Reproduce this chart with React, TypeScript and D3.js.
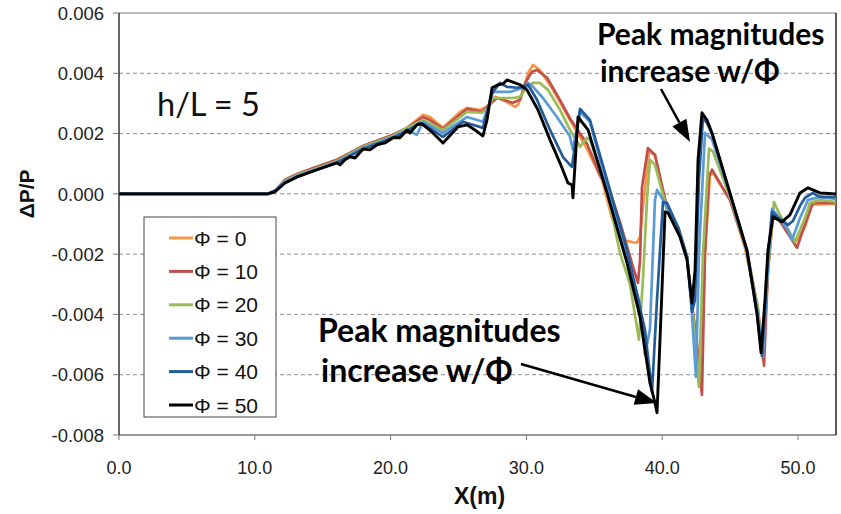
import { useEffect, useRef } from "react";
import * as d3 from "d3";

// x in metres, y = ΔP/P
const phi0: [number, number][] = [
  [0, 0], [10.97, 0], [11.49, 0.0001], [12.22, 0.00046], [13.11, 0.00066], [14.58, 0.0009], [16.05, 0.00113],
  [17.01, 0.00136], [17.97, 0.00159], [19.0, 0.00176], [20.18, 0.00196], [21.21, 0.00219], [22.39, 0.00262],
  [22.9, 0.00255], [23.86, 0.00219], [25.11, 0.00272], [25.63, 0.00285], [26.58, 0.00279], [27.1, 0.00289],
  [27.69, 0.00322], [28.28, 0.00312], [29.16, 0.00289], [29.38, 0.00295], [29.75, 0.00338], [30.12, 0.00401],
  [30.49, 0.00428], [31.0, 0.00411], [31.96, 0.00345], [33.21, 0.00245], [34.46, 0.0015], [35.57, 0.00046],
  [36.3, -0.0008], [37.11, -0.00153], [38.14, -0.00163], [38.37, -0.00143], [38.59, -0.0004], [39.03, 0.0014],
  [39.47, 0.0013], [40.43, -0.0006], [41.16, -0.0011], [41.83, -0.00209], [42.2, -0.0037], [42.56, -0.0049],
  [42.86, -0.0063], [43.15, -0.002], [43.52, 0.0006], [43.74, 0.0007], [44.99, -0.0002], [46.1, -0.0018],
  [46.98, -0.0037], [47.42, -0.0055], [47.79, -0.0026], [48.16, -0.0007], [48.67, -0.0009], [49.78, -0.00163],
  [50.52, -0.0011], [51.03, -0.00036], [52.8, -0.00033],
];

const phi10: [number, number][] = [
  [0, 0], [10.97, 0], [11.49, 0.0001], [12.22, 0.00046], [13.11, 0.00066], [14.58, 0.0009], [16.05, 0.00113],
  [17.01, 0.00136], [17.97, 0.00159], [19.0, 0.00176], [20.18, 0.00196], [21.21, 0.00219], [22.39, 0.00255],
  [22.9, 0.00245], [23.86, 0.00216], [25.63, 0.00282], [26.73, 0.00272], [27.1, 0.00289], [27.84, 0.00318],
  [29.01, 0.00302], [29.53, 0.00312], [29.9, 0.00368], [30.41, 0.00405], [30.78, 0.00411], [31.52, 0.00385],
  [32.47, 0.00312], [33.21, 0.0025], [34.46, 0.00166], [35.42, 0.00063], [36.3, -0.00013], [36.89, -0.00093],
  [37.85, -0.00242], [38.22, -0.00295], [38.37, -0.0022], [38.51, 0.0002], [38.95, 0.00152], [39.47, 0.00129],
  [40.43, -0.00063], [41.16, -0.0011], [41.83, -0.00209], [42.2, -0.0037], [42.56, -0.005], [42.93, -0.00667],
  [43.15, -0.002], [43.45, 0.0006], [43.67, 0.0008], [44.99, -0.0002], [46.24, -0.0019], [47.05, -0.0038],
  [47.5, -0.0057], [47.79, -0.0025], [48.16, -0.0007], [48.67, -0.0009], [49.93, -0.00179], [50.52, -0.001],
  [51.1, -0.0003], [52.8, -0.0003],
];

const phi20: [number, number][] = [
  [0, 0], [10.97, 0], [11.49, 0.0001], [12.22, 0.00043], [13.11, 0.00063], [14.58, 0.00086], [16.05, 0.00109],
  [17.01, 0.00133], [17.97, 0.00156], [19.0, 0.00173], [20.18, 0.00193], [21.21, 0.00219], [22.39, 0.00245],
  [23.86, 0.00212], [25.63, 0.00272], [26.73, 0.00269], [27.17, 0.00285], [27.54, 0.00318], [29.01, 0.00318],
  [29.53, 0.00322], [30.04, 0.00355], [30.49, 0.00368], [31.0, 0.00368], [31.59, 0.00345], [32.47, 0.00279],
  [33.21, 0.00212], [33.8, 0.00169], [33.95, 0.00156], [34.46, 0.00186], [34.68, 0.00179], [35.94, 0.00013],
  [36.89, -0.00196], [37.63, -0.003], [38.29, -0.00484], [38.59, -0.0028], [38.88, -0.0002], [39.1, 0.00113],
  [39.47, 0.00096], [40.35, -0.00053], [41.16, -0.0011], [41.83, -0.00209], [42.2, -0.0037], [42.71, -0.0064],
  [43.0, -0.002], [43.45, 0.0015], [43.74, 0.0014], [44.99, -0.0001], [46.24, -0.0019], [47.05, -0.0038],
  [47.35, -0.0052], [47.72, -0.0028], [48.23, -0.00027], [48.67, -0.0007], [49.78, -0.00159], [50.52, -0.0008],
  [50.88, -0.0003], [51.62, -0.0002], [52.8, -0.00027],
];

const phi30: [number, number][] = [
  [0, 0], [10.97, 0], [11.49, 0.0001], [12.22, 0.0004], [13.11, 0.0006], [14.58, 0.00083], [16.05, 0.00106],
  [17.01, 0.00129], [17.97, 0.00152], [19.0, 0.00169], [20.18, 0.00189], [21.21, 0.00212], [21.94, 0.00196],
  [22.39, 0.00239], [23.86, 0.00202], [25.63, 0.00255], [26.8, 0.00239], [27.32, 0.00302], [27.54, 0.00338],
  [28.79, 0.00338], [29.75, 0.00352], [30.12, 0.00368], [30.49, 0.00355], [31.22, 0.00318], [32.25, 0.00255],
  [33.21, 0.0019], [33.43, 0.00146], [33.95, 0.00272], [34.68, 0.00239], [35.94, 0.0003], [37.41, -0.00202],
  [38.37, -0.00368], [38.73, -0.00534], [39.1, -0.0045], [39.47, -0.0002], [39.62, 0.00013], [40.06, -0.0002],
  [41.16, -0.0011], [41.83, -0.00209], [42.12, -0.0035], [42.49, -0.00607], [42.71, -0.002], [43.15, 0.00202],
  [43.67, 0.0018], [44.99, 0.0], [46.24, -0.0019], [47.05, -0.004], [47.42, -0.0054], [47.72, -0.003],
  [48.09, -0.0005], [48.45, -0.0007], [49.26, -0.0012], [49.56, -0.00153], [50.15, -0.0008], [50.74, -0.0002],
  [51.62, -0.0001], [52.8, -0.00017],
];

const phi40: [number, number][] = [
  [0, 0], [10.97, 0], [11.49, 0.0001], [12.22, 0.00036], [13.11, 0.00056], [14.58, 0.0008], [16.05, 0.00103],
  [17.01, 0.00126], [17.97, 0.00149], [19.0, 0.00166], [20.18, 0.00186], [21.21, 0.00209], [22.16, 0.00235],
  [22.39, 0.00232], [23.86, 0.00189], [25.33, 0.00239], [26.8, 0.00219], [27.47, 0.00335], [28.06, 0.00368],
  [28.57, 0.00355], [29.31, 0.00352], [29.75, 0.00355], [30.12, 0.00362], [30.78, 0.00312], [31.74, 0.00212],
  [32.7, 0.00122], [33.21, 0.00096], [33.36, 0.0009], [33.95, 0.00282], [34.68, 0.00245], [35.94, 0.00046],
  [37.41, -0.00186], [38.73, -0.00451], [39.25, -0.00657], [39.62, -0.0035], [40.06, -0.00027], [40.35, -0.0003],
  [41.16, -0.0011], [41.83, -0.00209], [42.2, -0.00391], [42.42, -0.0035], [42.71, 0.0005], [43.0, 0.00252],
  [43.3, 0.00235], [43.67, 0.00199], [44.99, 0.0], [46.24, -0.00189], [46.98, -0.004], [47.35, -0.00537],
  [47.57, -0.0038], [47.79, -0.0021], [48.09, -0.0006], [48.45, -0.00075], [49.26, -0.00103], [49.63, -0.0009],
  [50.15, -0.0004], [50.52, -0.00013], [51.1, 0.00003], [51.62, -0.0001], [52.8, -0.0001],
];

const phi50: [number, number][] = [
  [0, 0], [10.97, 0], [11.49, 0.00007], [12.22, 0.00036], [13.11, 0.00056], [14.58, 0.0008], [16.05, 0.00103],
  [16.27, 0.00096], [16.64, 0.00113], [17.01, 0.00123], [17.38, 0.00119], [17.97, 0.00149], [18.48, 0.00146],
  [19.0, 0.00163], [19.59, 0.00169], [20.18, 0.00186], [20.69, 0.00186], [21.21, 0.00212], [21.43, 0.00202],
  [21.94, 0.00229], [22.31, 0.00232], [23.12, 0.00202], [23.86, 0.00169], [24.96, 0.00222], [25.63, 0.00229],
  [26.21, 0.00212], [26.8, 0.00192], [27.1, 0.00245], [27.47, 0.00352], [27.91, 0.00362], [28.28, 0.00365],
  [28.57, 0.00378], [29.01, 0.00371], [29.53, 0.00362], [30.04, 0.00345], [30.85, 0.00279], [31.74, 0.00179],
  [32.47, 0.00103], [33.06, 0.00036], [33.36, 0.0003], [33.43, -0.00013], [33.8, 0.00255], [34.54, 0.00212],
  [35.94, 0.00003], [37.41, -0.00229], [38.37, -0.00408], [39.1, -0.00627], [39.47, -0.00693], [39.62, -0.00726],
  [39.84, -0.00484], [40.21, -0.0006], [40.43, -0.00063], [41.31, -0.00143], [41.83, -0.00219], [42.2, -0.00362],
  [42.42, -0.00252], [42.64, 0.00113], [42.93, 0.00269], [43.3, 0.00245], [43.67, 0.00202], [44.99, 0.00003],
  [46.24, -0.00186], [46.98, -0.00395], [47.28, -0.00527], [47.57, -0.00352], [47.79, -0.00186], [48.16, -0.00076],
  [48.82, -0.00093], [49.41, -0.0007], [50.15, 0.00003], [50.74, 0.0002], [51.62, 0.00003], [52.8, 0],
];

const seriesLabels = ["Φ = 0", "Φ = 10", "Φ = 20", "Φ = 30", "Φ = 40", "Φ = 50"];
const seriesColors = ["#F79646", "#C0504D", "#9BBB59", "#5B9BD5", "#245B99", "#000000"];
const seriesData = [phi0, phi10, phi20, phi30, phi40, phi50];

const xTicks = [0, 10, 20, 30, 40, 50];
const yTicks = [-0.008, -0.006, -0.004, -0.002, 0, 0.002, 0.004, 0.006];

const WIDTH = 841;
const HEIGHT = 514;
const margin = { top: 13, right: 5, bottom: 79, left: 119 };

const tickFont = "'Liberation Sans', Arial, sans-serif";
const noteFont = "Lato, 'Open Sans', sans-serif";

export default function App() {
  const svgRef = useRef<SVGSVGElement | null>(null);

  useEffect(() => {
    if (!svgRef.current) return;
    const svg = d3.select(svgRef.current);
    svg.selectAll("*").remove();

    const left = margin.left;
    const right = WIDTH - margin.right;
    const top = margin.top;
    const bottom = HEIGHT - margin.bottom;

    const x = d3.scaleLinear().domain([0, 52.8]).range([left, right]);
    const y = d3.scaleLinear().domain([-0.008, 0.006]).range([bottom, top]);

    svg.append("rect").attr("width", WIDTH).attr("height", HEIGHT).attr("fill", "#fff");

    // gridlines
    svg.append("g")
      .selectAll("line")
      .data(yTicks.filter(t => t > -0.008 && t < 0.006))
      .join("line")
      .attr("x1", left)
      .attr("x2", right)
      .attr("y1", d => y(d))
      .attr("y2", d => y(d))
      .attr("stroke", "#8c8c8c")
      .attr("stroke-width", 1)
      .attr("stroke-dasharray", "4,3");

    // frame
    svg.append("line").attr("x1", left).attr("x2", right).attr("y1", top).attr("y2", top)
      .attr("stroke", "#777").attr("stroke-width", 1);
    svg.append("line").attr("x1", left).attr("x2", right).attr("y1", bottom).attr("y2", bottom)
      .attr("stroke", "#777").attr("stroke-width", 1.5);
    svg.append("line").attr("x1", right).attr("x2", right).attr("y1", top).attr("y2", bottom)
      .attr("stroke", "#222").attr("stroke-width", 1.5);
    svg.append("line").attr("x1", left).attr("x2", left).attr("y1", top).attr("y2", bottom)
      .attr("stroke", "#333").attr("stroke-width", 1.5);

    // y ticks
    const yAxis = svg.append("g");
    yAxis.selectAll("line")
      .data(yTicks)
      .join("line")
      .attr("x1", left - 6)
      .attr("x2", left)
      .attr("y1", d => y(d))
      .attr("y2", d => y(d))
      .attr("stroke", "#777");
    yAxis.selectAll("text")
      .data(yTicks)
      .join("text")
      .attr("x", left - 15)
      .attr("y", d => y(d))
      .attr("dy", "0.36em")
      .attr("text-anchor", "end")
      .attr("font-family", tickFont)
      .attr("font-size", 18.5)
      .attr("fill", "#222")
      .text(d => d3.format(".3f")(d).replace("−", "-"));

    // x ticks
    const xAxis = svg.append("g");
    xAxis.selectAll("line")
      .data(xTicks)
      .join("line")
      .attr("x1", d => x(d))
      .attr("x2", d => x(d))
      .attr("y1", bottom)
      .attr("y2", bottom + 5)
      .attr("stroke", "#777");
    xAxis.selectAll("text")
      .data(xTicks)
      .join("text")
      .attr("x", d => x(d))
      .attr("y", bottom + 39)
      .attr("text-anchor", "middle")
      .attr("font-family", tickFont)
      .attr("font-size", 18)
      .attr("fill", "#222")
      .text(d => d3.format(".1f")(d));

    // axis titles
    svg.append("text")
      .attr("x", (left + right) / 2 + 2)
      .attr("y", 504)
      .attr("text-anchor", "middle")
      .attr("font-family", "'Liberation Sans Narrow', 'Liberation Sans', Arial, sans-serif")
      .attr("font-weight", "bold")
      .attr("font-size", 23)
      .attr("fill", "#111")
      .text("X(m)");
    svg.append("text")
      .attr("transform", `translate(34,${y(0)}) rotate(-90)`)
      .attr("text-anchor", "middle")
      .attr("font-family", tickFont)
      .attr("font-weight", "bold")
      .attr("font-size", 21)
      .attr("fill", "#111")
      .text("ΔP/P");

    // series
    svg.append("clipPath").attr("id", "plot-clip")
      .append("rect").attr("x", left).attr("y", top - 5).attr("width", right - left).attr("height", bottom - top + 10);

    const line = d3.line<[number, number]>()
      .x(d => x(d[0]))
      .y(d => y(d[1]));

    svg.append("g")
      .attr("clip-path", "url(#plot-clip)")
      .selectAll("path")
      .data(seriesData)
      .join("path")
      .attr("d", d => line(d))
      .attr("fill", "none")
      .attr("stroke", (_, i) => seriesColors[i])
      .attr("stroke-width", (_, i) => (i === 5 ? 2.9 : 2.7))
      .attr("stroke-linejoin", "round");

    // legend
    const lg = svg.append("g").attr("transform", "translate(144,217)");
    lg.append("rect")
      .attr("width", 132)
      .attr("height", 200)
      .attr("fill", "#fff")
      .attr("stroke", "#444")
      .attr("stroke-width", 1);
    seriesLabels.forEach((label, i) => {
      const cy = 21 + i * 33.4;
      lg.append("line")
        .attr("x1", 25).attr("x2", 49)
        .attr("y1", cy).attr("y2", cy)
        .attr("stroke", seriesColors[i])
        .attr("stroke-width", 3);
      lg.append("text")
        .attr("x", 50)
        .attr("y", cy)
        .attr("dy", "0.36em")
        .attr("font-family", tickFont)
        .attr("font-size", 21)
        .attr("fill", "#111")
        .text(label);
    });

    // annotations
    svg.append("text")
      .attr("x", 157).attr("y", 116)
      .attr("font-family", noteFont)
      .attr("font-size", 32.5)
      .attr("fill", "#111")
      .text("h/L = 5");

    const note = (x0: number, y0: number, size: number, gap: number) => {
      const t = svg.append("text")
        .attr("font-family", noteFont)
        .attr("font-weight", "bold")
        .attr("font-size", size)
        .attr("fill", "#000");
      t.append("tspan").attr("x", x0).attr("y", y0).text("Peak magnitudes");
      t.append("tspan").attr("x", x0 + 3).attr("y", y0 + gap).text("increase w/Φ");
    };
    note(597, 45, 30, 37);
    note(318, 342, 32, 40);

    const arrow = (x1: number, y1: number, x2: number, y2: number) => {
      const ang = Math.atan2(y2 - y1, x2 - x1);
      const len = 22;
      const hw = 8;
      const bx = x2 - len * Math.cos(ang);
      const by = y2 - len * Math.sin(ang);
      svg.append("line")
        .attr("x1", x1).attr("y1", y1).attr("x2", bx).attr("y2", by)
        .attr("stroke", "#000").attr("stroke-width", 2.5);
      const pts = [
        [x2, y2],
        [bx + hw * Math.sin(ang), by - hw * Math.cos(ang)],
        [bx - hw * Math.sin(ang), by + hw * Math.cos(ang)],
      ];
      svg.append("polygon")
        .attr("points", pts.map(p => p.join(",")).join(" "))
        .attr("fill", "#000");
    };
    arrow(661, 89, 690, 142);
    arrow(521, 364, 657, 403);
  }, []);

  return (
    <svg
      ref={svgRef}
      width={WIDTH}
      height={HEIGHT}
      style={{ position: "absolute", left: 0, top: 0 }}
    />
  );
}
